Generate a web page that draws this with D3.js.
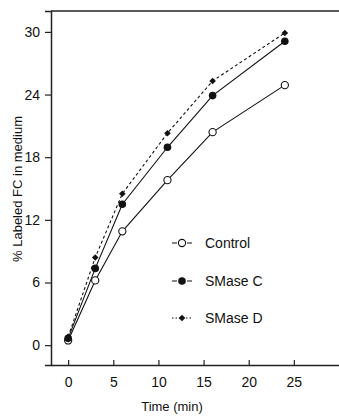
<!DOCTYPE html>
<html>
<head>
<meta charset="utf-8">
<script src="https://cdn.jsdelivr.net/npm/d3@7"></script>
<style>
  body { margin: 0; background: #fff; }
  svg { display: block; font-family: "Liberation Sans", Arial, sans-serif; }
</style>
</head>
<body>
<svg id="chart" width="339" height="417"></svg>
<script>
/* time points (min) and % labeled FC in medium */
const times = [0, 3, 6, 11, 16, 24];
const control = [0.45, 6.2, 10.9, 15.8, 20.4, 24.9];
const smaseC = [0.65, 7.35, 13.5, 18.95, 23.9, 29.1];
const smaseD = [0.8, 8.4, 14.5, 20.3, 25.3, 29.9];

const xTicks = [0, 5, 10, 15, 20, 25];
const yTicks = [0, 6, 12, 18, 24, 30];

const series = [
  { name: "Control",  values: control, marker: "open",    dash: null },
  { name: "SMase C",  values: smaseC,  marker: "filled",  dash: null },
  { name: "SMase D",  values: smaseD,  marker: "diamond", dash: "3,2.5" },
];

const W = 339, H = 417;
const M = { left: 51, top: 11, right: 0, bottom: 52 };

const svg = d3.select("#chart");

const x = d3.scaleLinear().domain([-1.9, 30]).range([M.left, W - M.right]);
const y = d3.scaleLinear().domain([-1.9, 32]).range([H - M.bottom, M.top]);

/* axes */
const xAxis = svg.append("g")
  .attr("transform", `translate(0,${H - M.bottom})`)
  .call(d3.axisBottom(x).tickValues(xTicks).tickSizeInner(-5).tickSizeOuter(0).tickPadding(12));

const yAxis = svg.append("g")
  .attr("transform", `translate(${M.left},0)`)
  .call(d3.axisLeft(y).tickValues(yTicks).tickSize(6).tickPadding(5));

[xAxis, yAxis].forEach(a => {
  a.select(".domain").attr("stroke", "#222").attr("stroke-width", 1.5);
  a.selectAll(".tick line").attr("stroke", "#222").attr("stroke-width", 1.2);
  a.selectAll(".tick text").attr("fill", "#111").style("font-size", "14px");
});

/* top border */
svg.append("line")
  .attr("x1", M.left).attr("x2", W)
  .attr("y1", M.top).attr("y2", M.top)
  .attr("stroke", "#222").attr("stroke-width", 1.5);

/* axis titles */
svg.append("text")
  .attr("x", 172).attr("y", 411)
  .attr("text-anchor", "middle")
  .style("font-size", "13px").attr("fill", "#111")
  .text("Time (min)");

svg.append("text")
  .attr("transform", "translate(22,189) rotate(-90)")
  .attr("text-anchor", "middle")
  .style("font-size", "13px").attr("fill", "#111")
  .text("% Labeled FC in medium");

/* markers */
function drawMarker(g, kind, cx, cy) {
  if (kind === "open") {
    g.append("circle").attr("cx", cx).attr("cy", cy).attr("r", 3.6)
      .attr("fill", "#fff").attr("stroke", "#111").attr("stroke-width", 1.1);
  } else if (kind === "filled") {
    g.append("circle").attr("cx", cx).attr("cy", cy).attr("r", 3.8)
      .attr("fill", "#111");
  } else {
    const s = 3.3;
    g.append("path")
      .attr("d", `M${cx},${cy - s}L${cx + s},${cy}L${cx},${cy + s}L${cx - s},${cy}Z`)
      .attr("fill", "#111");
  }
}

const line = d3.line()
  .x((d, i) => x(times[i]))
  .y(d => y(d));

series.forEach(s => {
  svg.append("path")
    .datum(s.values)
    .attr("d", line)
    .attr("fill", "none")
    .attr("stroke", "#111")
    .attr("stroke-width", 1.1)
    .attr("stroke-dasharray", s.dash);
});

series.forEach(s => {
  const g = svg.append("g");
  s.values.forEach((v, i) => drawMarker(g, s.marker, x(times[i]), y(v)));
});

/* legend */
const legendY = [243, 281, 318];
series.forEach((s, i) => {
  const g = svg.append("g");
  const cy = legendY[i];
  const cx = 182;
  if (s.dash) {
    g.append("line").attr("x1", 172).attr("x2", 193).attr("y1", cy).attr("y2", cy)
      .attr("stroke", "#111").attr("stroke-width", 1).attr("stroke-dasharray", "1.5,2");
  } else {
    g.append("line").attr("x1", 172).attr("x2", 177).attr("y1", cy).attr("y2", cy)
      .attr("stroke", "#111").attr("stroke-width", 1);
    g.append("line").attr("x1", 187).attr("x2", 192).attr("y1", cy).attr("y2", cy)
      .attr("stroke", "#111").attr("stroke-width", 1);
  }
  drawMarker(g, s.marker, cx, cy);
  g.append("text")
    .attr("x", 205).attr("y", cy + 5)
    .style("font-size", "14px").attr("fill", "#111")
    .text(s.name);
});
</script>
</body>
</html>
